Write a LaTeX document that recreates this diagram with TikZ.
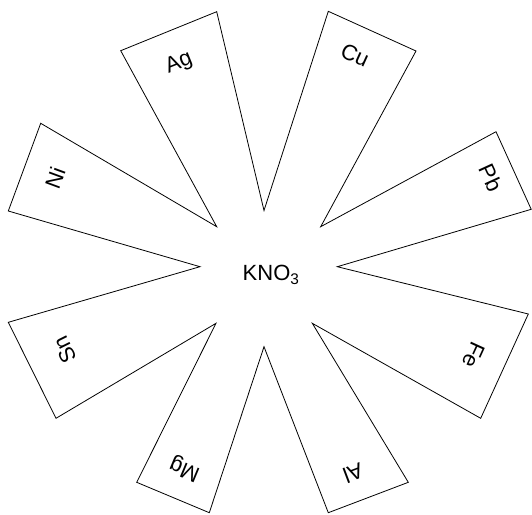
\documentclass[tikz,border=0pt]{standalone}
\usepackage{fontspec}
\setmainfont{Liberation Sans}
\begin{document}
\begin{tikzpicture}[x=1pt,y=-1pt,
  arm/.style={draw=black, line width=0.8pt, line join=miter},
  lbl/.style={font=\fontsize{22}{26}\selectfont, inner sep=0pt}]
\useasboundingbox (0,0) rectangle (532,514);
% outer vertices
\coordinate (ag1) at (120.7,50.7);
\coordinate (ag2) at (216.7,11.7);
\coordinate (cu1) at (328.3,11.3);
\coordinate (cu2) at (416,51);
\coordinate (pb1) at (496,131.7);
\coordinate (pb2) at (531.2,209.3);
\coordinate (fe1) at (528.3,314);
\coordinate (fe2) at (480.7,418.3);
\coordinate (al1) at (408.3,482.3);
\coordinate (al2) at (328.3,512.7);
\coordinate (mg1) at (209.3,512.7);
\coordinate (mg2) at (136.7,482.3);
\coordinate (sn1) at (56,418.3);
\coordinate (sn2) at (8.3,322.3);
\coordinate (ni1) at (8.3,211);
\coordinate (ni2) at (40.7,123.3);
% inner vertices
\coordinate (i1) at (264,210.5);
\coordinate (i2) at (320.7,226.7);
\coordinate (i3) at (337.3,266.7);
\coordinate (i4) at (312.3,323.3);
\coordinate (i5) at (264,346.7);
\coordinate (i6) at (216,323.3);
\coordinate (i7) at (200,266.7);
\coordinate (i8) at (216.7,226.7);
\draw[arm] (ag1) -- (ag2) -- (i1) -- (cu1) -- (cu2) -- (i2) -- (pb1) -- (pb2) -- (i3)
  -- (fe1) -- (fe2) -- (i4) -- (al1) -- (al2) -- (i5) -- (mg1) -- (mg2) -- (i6)
  -- (sn1) -- (sn2) -- (i7) -- (ni1) -- (ni2) -- (i8) -- cycle;
% labels
\node[lbl, rotate=22] (ag) at (179,63.3) {Ag};
\node[lbl, rotate=-24.4] (cu) at (355,55) {Cu};
\node[lbl, rotate=-65.3] (pb) at (490.7,177.7) {Pb};
\node[lbl, rotate=-114.5] (fe) at (473.3,355) {Fe};
\node[lbl, rotate=-159.2] (al) at (353.3,473.3) {Al};
\node[lbl, rotate=157.3] (mg) at (185,468.3) {Mg};
\node[lbl, rotate=116.4] (sn) at (65,350) {Sn};
\node[lbl, rotate=69.7] (ni) at (55,178.3) {Ni};
\node[lbl, anchor=base west] (kno) at (242.5,280.5) {KNO\textsubscript{3}};
\end{tikzpicture}
\end{document}
